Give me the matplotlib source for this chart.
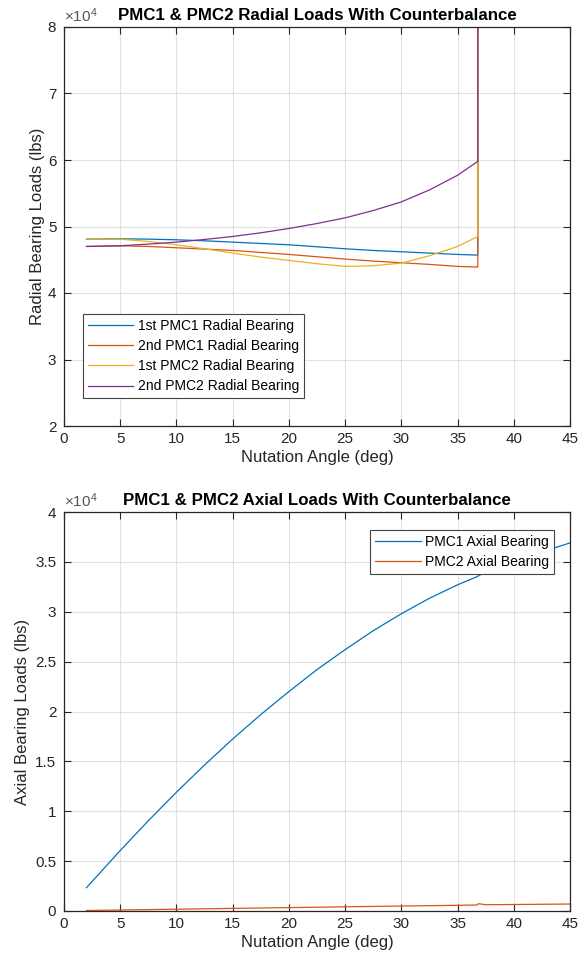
import matplotlib
matplotlib.use("Agg")
import matplotlib.pyplot as plt
from matplotlib.ticker import FuncFormatter, MultipleLocator

plt.rcParams['font.family'] = ['Liberation Sans', 'DejaVu Sans']
plt.rcParams['mathtext.fontset'] = 'custom'
plt.rcParams['mathtext.rm'] = 'Liberation Sans'

# ---------------- Data ----------------
# Radial loads (lbs) vs nutation angle (deg); last point is far off-scale
radial_angle = [2, 5, 7.5, 10, 12.5, 15, 17.5, 20, 22.5, 25, 27.5, 30, 32.5, 35, 36.8, 36.87]
pmc1_radial_1 = [48100, 48150, 48100, 48000, 47850, 47650, 47450, 47250, 46950, 46650, 46400, 46200, 46000, 45800, 45700, 1.0e6]
pmc1_radial_2 = [47000, 47100, 47000, 46800, 46600, 46400, 46100, 45800, 45450, 45100, 44800, 44550, 44300, 44000, 43900, 1.0e6]
pmc2_radial_1 = [48100, 48100, 47750, 47250, 46650, 46000, 45400, 44900, 44400, 44000, 44100, 44500, 45600, 47000, 48500, 1.0e6]
pmc2_radial_2 = [47000, 47100, 47350, 47650, 48050, 48500, 49050, 49700, 50450, 51300, 52400, 53700, 55500, 57700, 59800, 1.0e6]
radial_labels = ['1st PMC1 Radial Bearing', '2nd PMC1 Radial Bearing',
                 '1st PMC2 Radial Bearing', '2nd PMC2 Radial Bearing']

# Axial loads (lbs)
axial_angle_1 = [2, 5, 7.5, 10, 12.5, 15, 17.5, 20, 22.5, 25, 27.5, 30, 32.5, 35, 36.8, 36.9, 40, 42.5, 45]
pmc1_axial = [2340, 6060, 9050, 11910, 14640, 17240, 19690, 22000, 24200, 26200, 28100, 29800, 31350, 32700, 33550, 33650, 35000, 36000, 36900]
axial_angle_2 = [2, 5, 10, 15, 20, 25, 30, 35, 36.7, 36.87, 37.5, 40, 45]
pmc2_axial = [50, 100, 180, 260, 340, 420, 500, 570, 600, 730, 630, 650, 700]
axial_labels = ['PMC1 Axial Bearing', 'PMC2 Axial Bearing']

colors = ['#0072BD', '#D95319', '#EDB120', '#7E2F8E']
axcol = '#262626'

fig = plt.figure(figsize=(5.85, 9.61), dpi=100)
ax1 = fig.add_axes([64/585, 1 - 426/961, 506/585, 399/961])
ax2 = fig.add_axes([64/585, 1 - 911/961, 506/585, 399/961])

fmt = FuncFormatter(lambda v, p: '%g' % round(v / 1e4, 6))


def style(ax):
    ax.set_xlim(0, 45)
    ax.xaxis.set_major_locator(MultipleLocator(5))
    ax.grid(True, color=axcol, alpha=0.13, linewidth=0.8)
    ax.set_axisbelow(True)
    for s in ax.spines.values():
        s.set_color(axcol)
        s.set_linewidth(0.9)
    ax.tick_params(direction='in', length=5, width=0.8, color=axcol,
                   top=True, right=True, labelsize=11, labelcolor=axcol)
    ax.tick_params(axis='y', pad=5.5)
    ax.tick_params(axis='x', pad=4)
    ax.yaxis.set_major_formatter(fmt)
    ax.set_xlabel('Nutation Angle (deg)', fontsize=12, color=axcol, labelpad=3)
    ax.text(0.0, 1.004, r'$\times\mathregular{10^{4}}$', transform=ax.transAxes,
            ha='left', va='bottom', fontsize=11, color='#555555')


def legend(ax, **kw):
    leg = ax.legend(borderaxespad=0, fontsize=10, fancybox=False, framealpha=1,
                    edgecolor='#444444', handlelength=3.25, handletextpad=0.34,
                    labelspacing=0.45, borderpad=0.36, **kw)
    leg.get_frame().set_linewidth(0.8)
    return leg


# Top plot
series = [pmc1_radial_1, pmc1_radial_2, pmc2_radial_1, pmc2_radial_2]
for vals, c, lab in zip(series, colors, radial_labels):
    ax1.plot(radial_angle, vals, color=c, lw=0.9, label=lab)
style(ax1)
ax1.set_ylim(20000, 80000)
ax1.yaxis.set_major_locator(MultipleLocator(10000))
ax1.set_ylabel('Radial Bearing Loads (lbs)', fontsize=12, color=axcol, labelpad=2)
ax1.set_title('PMC1 & PMC2 Radial Loads With Counterbalance', fontsize=12.2,
              fontweight='bold', color='black', pad=5)
legend(ax1, loc='lower left', bbox_to_anchor=(0.037, 0.069))

# Bottom plot
ax2.plot(axial_angle_1, pmc1_axial, color=colors[0], lw=0.9, label=axial_labels[0])
ax2.plot(axial_angle_2, pmc2_axial, color=colors[1], lw=0.9, label=axial_labels[1])
style(ax2)
ax2.set_ylim(0, 40000)
ax2.yaxis.set_major_locator(MultipleLocator(5000))
ax2.set_ylabel('Axial Bearing Loads (lbs)', fontsize=12, color=axcol, labelpad=3.5)
ax2.set_title('PMC1 & PMC2 Axial Loads With Counterbalance', fontsize=12.2,
              fontweight='bold', color='black', pad=5)
legend(ax2, loc='upper right', bbox_to_anchor=(0.969, 0.955))

fig.savefig('out.png', dpi=100)
